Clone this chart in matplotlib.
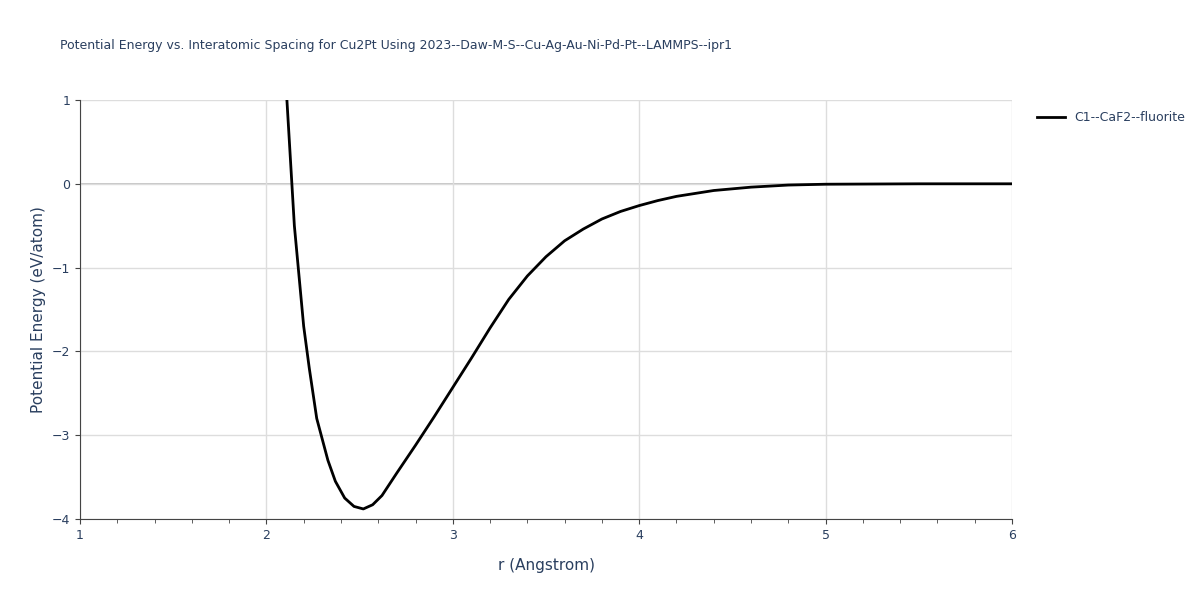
import matplotlib
matplotlib.use("Agg")
import matplotlib.pyplot as plt
from matplotlib.ticker import MultipleLocator

r = [2.11, 2.15, 2.2, 2.23, 2.27, 2.3, 2.33, 2.37, 2.42, 2.47, 2.52, 2.57, 2.62, 2.7, 2.8, 2.9,
     3.0, 3.1, 3.2, 3.3, 3.4, 3.5, 3.6, 3.7, 3.8, 3.9, 4.0, 4.1, 4.2, 4.4, 4.6, 4.8, 5.0, 5.5, 6.0]
energy = [1.0, -0.5, -1.7, -2.2, -2.8, -3.05, -3.3, -3.55, -3.75, -3.85, -3.88, -3.83, -3.72, -3.45,
          -3.12, -2.78, -2.43, -2.08, -1.72, -1.38, -1.1, -0.87, -0.68, -0.54, -0.42, -0.33, -0.26,
          -0.2, -0.15, -0.08, -0.04, -0.015, -0.005, 0.0, 0.0]

fig = plt.figure(figsize=(12, 6), dpi=100)
ax = fig.add_axes([80/1200, 1-519/600, 932/1200, 419/600])
ax.plot(r, energy, color="black", lw=2, label="C1--CaF2--fluorite")
ax.set_xlim(1, 6)
ax.set_ylim(-4, 1)
ax.xaxis.set_major_locator(MultipleLocator(1))
ax.xaxis.set_minor_locator(MultipleLocator(0.2))
ax.grid(True, which="major", color="#dddddd", lw=1)
ax.axhline(0, color="#bbbbbb", lw=1.2, zorder=1)
for s in ["top", "right"]:
    ax.spines[s].set_visible(False)
for s in ["left", "bottom"]:
    ax.spines[s].set_color("#444444")
tc = "#2a3f5f"
ax.tick_params(axis="both", colors="#444444", labelcolor=tc, labelsize=9)
ax.tick_params(axis="x", which="minor", length=3, colors="#444444")
ax.set_yticks([-4, -3, -2, -1, 0, 1])
ax.set_yticklabels(["\u22124", "\u22123", "\u22122", "\u22121", "0", "1"])
ax.set_xlabel("r (Angstrom)", fontsize=11, color=tc, labelpad=12)
ax.set_ylabel("Potential Energy (eV/atom)", fontsize=11, color=tc)
fig.text(60/1200, 1-45/600, "Potential Energy vs. Interatomic Spacing for Cu2Pt Using 2023--Daw-M-S--Cu-Ag-Au-Ni-Pd-Pt--LAMMPS--ipr1",
         fontsize=9, color=tc, va="center")
ax.legend(loc="upper left", bbox_to_anchor=(1.015, 1.0), frameon=False, fontsize=9, labelcolor=tc,
          handlelength=2.2)
fig.savefig("out.png")
